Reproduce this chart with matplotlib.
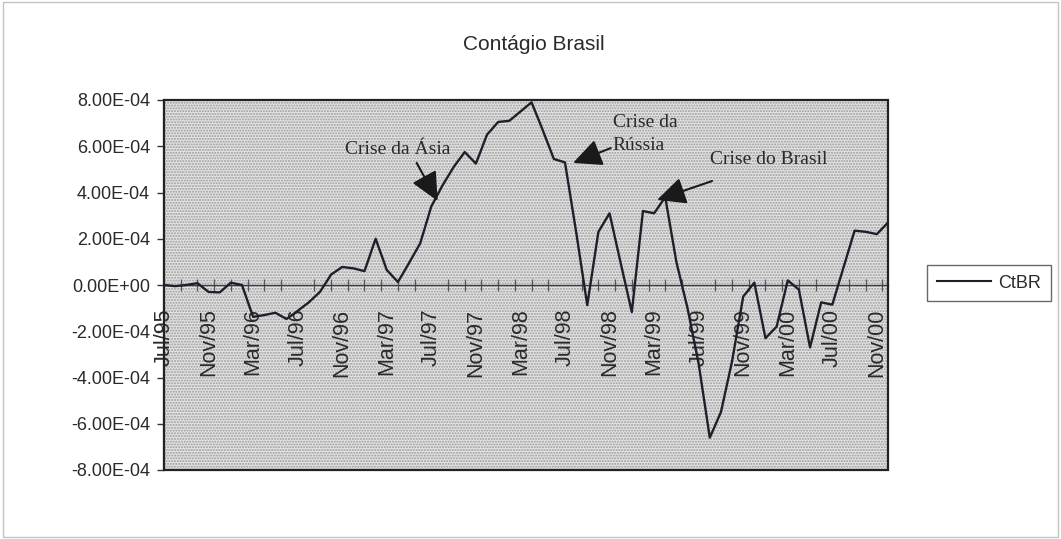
import matplotlib
matplotlib.use("Agg")
import matplotlib.pyplot as plt
from matplotlib.patches import Rectangle
from matplotlib.lines import Line2D
from matplotlib.ticker import FuncFormatter, MultipleLocator

plt.rcParams["font.family"] = ["Liberation Sans", "DejaVu Sans"]

title = "Contágio Brasil"
series_name = "CtBR"

# monthly values, Jul/95 .. Dec/00
values = [
    0.00e-4, -0.05e-4, 0.00e-4, 0.08e-4, -0.30e-4, -0.32e-4, 0.10e-4, 0.00e-4,
    -1.38e-4, -1.30e-4, -1.20e-4, -1.47e-4, -1.12e-4, -0.75e-4, -0.30e-4, 0.45e-4,
    0.78e-4, 0.72e-4, 0.60e-4, 2.00e-4, 0.65e-4, 0.13e-4, 0.95e-4, 1.80e-4,
    3.40e-4, 4.30e-4, 5.10e-4, 5.75e-4, 5.25e-4, 6.50e-4, 7.05e-4, 7.10e-4,
    7.50e-4, 7.90e-4, 6.70e-4, 5.45e-4, 5.30e-4, 2.30e-4, -0.87e-4, 2.30e-4,
    3.10e-4, 0.95e-4, -1.17e-4, 3.20e-4, 3.10e-4, 3.80e-4, 1.00e-4, -1.00e-4,
    -3.40e-4, -6.60e-4, -5.50e-4, -3.30e-4, -0.50e-4, 0.10e-4, -2.30e-4, -1.80e-4,
    0.20e-4, -0.20e-4, -2.70e-4, -0.75e-4, -0.85e-4, 0.75e-4, 2.35e-4, 2.30e-4,
    2.20e-4, 2.70e-4,
]

# category labels shown every 4 months
label_idx = [0, 4, 8, 12, 16, 20, 24, 28, 32, 36, 40, 44, 48, 52, 56, 60, 64]
x_labels = ["Jul/95", "Nov/95", "Mar/96", "Jul/96", "Nov/96", "Mar/97", "Jul/97",
            "Nov/97", "Mar/98", "Jul/98", "Nov/98", "Mar/99", "Jul/99", "Nov/99",
            "Mar/00", "Jul/00", "Nov/00"]

annotations = ["Crise da Ásia", "Crise da\nRússia", "Crise do Brasil"]

W, H = 1061, 539
fig = plt.figure(figsize=(W / 100, H / 100), dpi=100)
fig.patch.set_facecolor("white")
ax = fig.add_axes([164 / W, 69 / H, 724 / W, 370 / H])

# plot area background (dotted Excel pattern)
ax.patch.set_facecolor("white")
bg = Rectangle((0, 0), 1, 1, transform=ax.transAxes, facecolor="#e4e4e4",
               edgecolor="#9a9a9a", hatch="......", linewidth=0, zorder=0.5)
ax.add_patch(bg)

xs = list(range(len(values)))
ax.plot(xs, values, color="#1f1f2a", lw=1.7, zorder=3, label=series_name)

ax.set_xlim(0, len(values) - 1)
ax.set_ylim(-8e-4, 8e-4)

ax.yaxis.set_major_locator(MultipleLocator(2e-4))
ax.yaxis.set_major_formatter(
    FuncFormatter(lambda v, p: f"{(0.0 if abs(v) < 1e-12 else v):.2E}"))
ax.tick_params(axis="y", direction="out", length=5, width=1, color="#333",
               labelsize=13, labelcolor="#2a2a2a", pad=5)

ax.set_xticks(label_idx)
ax.set_xticklabels(x_labels)
ax.tick_params(axis="x", which="major", length=0, pad=17, labelsize=15.5,
               labelcolor="#2a2a2a", labelrotation=90)
ax.xaxis.set_minor_locator(MultipleLocator(1.5))
ax.tick_params(axis="x", which="minor", direction="inout", length=8, width=0.9,
               color="#555560")

ax.spines["bottom"].set_position(("data", 0))
ax.spines["bottom"].set_color("#3a3a4a")
ax.spines["bottom"].set_linewidth(1.0)
ax.spines["bottom"].set_zorder(2.6)
ax.spines["top"].set_visible(False)
ax.spines["right"].set_visible(False)
ax.spines["left"].set_color("#222")
ax.spines["left"].set_linewidth(1.5)

frame = Rectangle((0, 0), 1, 1, transform=ax.transAxes, fill=False,
                  edgecolor="#222", linewidth=1.6, zorder=5, clip_on=False)
ax.add_patch(frame)

# annotations
serif = "Liberation Serif"
arrow_kw = dict(arrowstyle="-|>,head_length=0.8,head_width=0.38",
                color="#1a1a1a", lw=1.5, mutation_scale=22, shrinkA=0, shrinkB=0)
ax.text(0.323, 0.865, annotations[0], transform=ax.transAxes, ha="center",
        va="center", fontsize=14, family=serif, color="#2a2a2a", zorder=6)
ax.annotate("", xy=(0.378, 0.727), xytext=(0.349, 0.830),
            xycoords="axes fraction", textcoords="axes fraction",
            arrowprops=arrow_kw, zorder=6)

ax.text(0.620, 0.908, annotations[1], transform=ax.transAxes, ha="left",
        va="center", fontsize=14, family=serif, color="#2a2a2a",
        linespacing=1.4, zorder=6)
ax.annotate("", xy=(0.565, 0.830), xytext=(0.617, 0.870),
            xycoords="axes fraction", textcoords="axes fraction",
            arrowprops=arrow_kw, zorder=6)

ax.text(0.754, 0.838, annotations[2], transform=ax.transAxes, ha="left",
        va="center", fontsize=14, family=serif, color="#2a2a2a", zorder=6)
ax.annotate("", xy=(0.681, 0.730), xytext=(0.757, 0.781),
            xycoords="axes fraction", textcoords="axes fraction",
            arrowprops=arrow_kw, zorder=6)

# title
fig.text(534 / W, 1 - 45 / H, title, ha="center", va="center", fontsize=15,
         color="#2a2a2a")

# legend
handle = Line2D([], [], color="#1f1f2a", lw=1.5)
leg = fig.legend([handle], [series_name], loc="center left",
                 bbox_to_anchor=(918 / W, 1 - 283 / H), frameon=True,
                 fancybox=False, edgecolor="#444",
                 handlelength=3.0, handletextpad=0.4, borderpad=0.55,
                 prop={"size": 13})
leg.get_frame().set_linewidth(1.0)
for t in leg.get_texts():
    t.set_color("#2a2a2a")

# faint outer chart border
fig.patches.append(Rectangle((3 / W, 2 / H), (1058 - 3) / W, (537 - 2) / H,
                             transform=fig.transFigure, fill=False,
                             edgecolor="#c4c4c4", linewidth=1.0))

fig.savefig("out.png", dpi=100)
